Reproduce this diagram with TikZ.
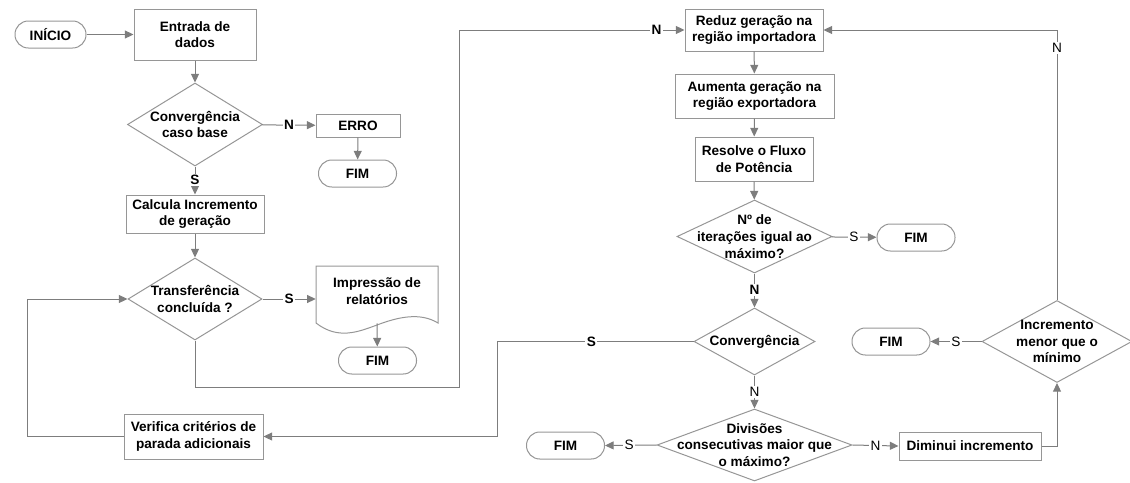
\documentclass[tikz,border=0pt]{standalone}
\usepackage{fontspec}
\setmainfont{Liberation Sans}
\usetikzlibrary{shapes.geometric,arrows.meta}
\definecolor{edgegray}{RGB}{150,150,150}
\definecolor{wiregray}{RGB}{125,125,125}
\begin{document}
\begin{tikzpicture}[x=0.75pt,y=-0.75pt,
  every node/.style={font=\fontsize{10.2}{12.5}\selectfont\bfseries, text=black},
  proc/.style={draw=edgegray, line width=0.75pt, rectangle, inner sep=0pt, align=center},
  term/.style={draw=edgegray, line width=0.75pt, rectangle, rounded corners=10pt, inner sep=0pt,
               minimum width=58.5pt, minimum height=20.25pt},
  dec/.style={draw=edgegray, line width=0.75pt, diamond, inner sep=0pt},
  txt/.style={align=center, inner sep=0pt},
  flow/.style={draw=wiregray, line width=0.75pt, -{Triangle[length=6.5pt,width=6pt]}},
  tag/.style={fill=white, inner sep=1pt},
  tagr/.style={fill=white, inner sep=1pt, font=\fontsize{10.2}{12.5}\selectfont}
]
\useasboundingbox (0,0) rectangle (1130,482);

% left column
\node[term, minimum width=53.25pt] (ini) at (50.5,34.5) {INÍCIO};
\node[proc, minimum width=91.5pt, minimum height=38.25pt] (ent) at (195,34.5) {Entrada de\\dados};
\node[dec, minimum width=101.25pt, minimum height=62.25pt] (cb) at (195,124.5) {};
\node[txt] at (cb) {Convergência\\caso base};
\node[proc, minimum width=63pt, minimum height=17.25pt] (erro) at (358,125.5) {ERRO};
\node[term] (fim1) at (357.5,173.5) {FIM};
\node[proc, minimum width=103.5pt, minimum height=28.5pt] (calc) at (195,214) {Calcula Incremento\\de geração};
\node[dec, minimum width=100.5pt, minimum height=61.5pt] (tr) at (195,299) {};
\node[txt] at (tr) {Transferência\\concluída ?};

% printed report (document shape)
\node[rectangle, inner sep=0pt, minimum width=91.5pt, minimum height=42.75pt] (imp) at (377,294.5) {};
\draw[edgegray, line width=0.75pt] (316,323) -- (316,266) -- (438,266) -- (438,323)
  .. controls (420,312) and (398,317) .. (377,325)
  .. controls (358,332) and (338,340) .. (316,323);
\node[txt] at (377,291) {Impressão de\\relatórios};
\node[term] (fim2) at (377.5,360.5) {FIM};
\node[proc, minimum width=104.25pt, minimum height=33.75pt] (ver) at (193.5,436.5) {Verifica critérios de\\parada adicionais};

% right column
\node[proc, minimum width=103.5pt, minimum height=31.5pt] (red) at (754,30) {Reduz geração na\\região importadora};
\node[proc, minimum width=119.25pt, minimum height=33pt] (aum) at (754.5,96) {Aumenta geração na\\região exportadora};
\node[proc, minimum width=88.5pt, minimum height=33pt] (res) at (754,159) {Resolve o Fluxo\\de Potência};
\node[dec, minimum width=116.25pt, minimum height=54.75pt] (nit) at (754.5,236.5) {};
\node[txt] at (nit) {Nº de\\iterações igual ao\\máximo?};
\node[term] (fim3) at (916,237.5) {FIM};
\node[dec, minimum width=90.75pt, minimum height=50.25pt] (conv) at (754.5,341.5) {};
\node[txt] at (conv) {Convergência};
\node[dec, minimum width=146.25pt, minimum height=54pt] (div) at (754.5,445) {};
\node[txt] at (div) {Divisões\\consecutivas maior que\\o máximo?};
\node[term] (fim4) at (565.5,445.5) {FIM};
\node[proc, minimum width=106.5pt, minimum height=21pt] (dim) at (970,446) {Diminui incremento};
\node[dec, minimum width=112.5pt, minimum height=61.5pt] (inc) at (1057,341.5) {};
\node[txt] at (inc) {Incremento\\menor que o\\mínimo};
\node[term] (fim5) at (891,341.5) {FIM};

% routing points
\coordinate (c1) at (459,387);
\coordinate (c2) at (497,0);
\coordinate (c3) at (27,0);

% connectors
\draw[flow] (ini) -- (ent);
\draw[flow] (ent) -- (cb);
\draw[flow] (cb) -- node[tag]{N} (erro);
\draw[flow] (erro) -- (fim1);
\draw[flow] (cb) -- node[tag,pos=0.48]{S} (calc);
\draw[flow] (calc) -- (tr);
\draw[flow] (tr.east) -- node[tag]{S} (tr.east -| imp.west);
\draw[flow] (imp.south) -- (fim2);
\draw[flow] (tr.south) |- (c1) |- node[tag,pos=0.938]{N} (red.west);
\draw[flow] (ver.west) -| (c3 |- tr.west) -- (tr.west);

\draw[flow] (red) -- (aum);
\draw[flow] (aum) -- (res);
\draw[flow] (res) -- (nit);
\draw[flow] (nit) -- node[tagr,pos=0.5]{S} (fim3);
\draw[flow] (nit) -- node[tag,pos=0.48]{N} (conv);
\draw[flow] (conv.west) -- node[tag,pos=0.52]{S} (c2 |- conv.west) |- (ver.east);
\draw[flow] (conv) -- node[tagr,pos=0.5]{N} (div);
\draw[flow] (div.west) -- node[tagr,pos=0.53]{S} (fim4.east);
\draw[flow] (div.east) -- node[tagr,pos=0.5]{N} (dim.west);
\draw[flow] (dim.east) -| (inc.south);
\draw[flow] (inc.west) -- node[tagr,pos=0.5]{S} (fim5.east);
\draw[flow] (inc.north) |- node[tagr,pos=0.467]{N} (red.east);
\end{tikzpicture}
\end{document}
